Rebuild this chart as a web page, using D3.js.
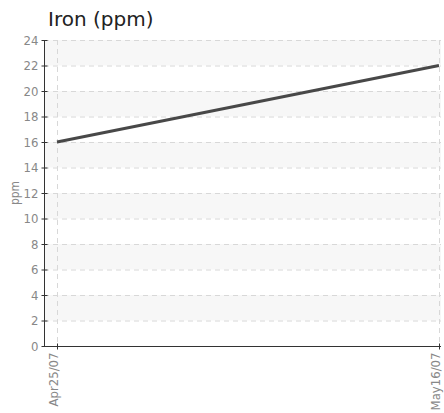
<!DOCTYPE html>
<html>
<head>
<meta charset="utf-8">
<script src="https://cdn.jsdelivr.net/npm/d3@7"></script>
<style>
body { margin: 0; background: #fff; }
text { font-family: "Liberation Sans Narrow", "DejaVu Sans Condensed", sans-serif; }
</style>
</head>
<body>
<div id="chart"></div>
<script>
// sample dates and iron readings
const dates = ["2007-04-25", "2007-05-16"];
const dateLabels = ["Apr25/07", "May16/07"];
const iron = [16, 22];
const yTicks = [0, 2, 4, 6, 8, 10, 12, 14, 16, 18, 20, 22, 24];

const width = 444;
const height = 413;
const margin = { top: 40, right: 3, bottom: 67, left: 44 };

const parse = d3.timeParse("%Y-%m-%d");
const data = dates.map((d, i) => ({ date: parse(d), value: iron[i], label: dateLabels[i] }));

const svg = d3.select("#chart")
    .append("svg")
    .attr("width", width)
    .attr("height", height);

const xScale = d3.scaleTime()
    .domain([parse(dates[0]), parse(dates[1])])
    .range([57, 439]);

const yScale = d3.scaleLinear()
    .domain([0, 24])
    .range([height - margin.bottom, margin.top]);

// alternating bands
const bands = d3.range(2, 24, 4);
svg.selectAll("rect.band")
    .data(bands)
    .enter()
    .append("rect")
    .attr("class", "band")
    .attr("x", margin.left)
    .attr("width", width - margin.right - margin.left)
    .attr("y", d => yScale(d + 2))
    .attr("height", d => yScale(d) - yScale(d + 2))
    .attr("fill", "#f7f7f7");

// horizontal grid
svg.selectAll("line.hgrid")
    .data(yTicks.slice(1))
    .enter()
    .append("line")
    .attr("class", "hgrid")
    .attr("x1", margin.left)
    .attr("x2", width - margin.right)
    .attr("y1", d => yScale(d) + 0.5)
    .attr("y2", d => yScale(d) + 0.5)
    .attr("stroke", "#d8d8d8")
    .attr("stroke-dasharray", "5,4");

// vertical grid at sample dates
svg.selectAll("line.vgrid")
    .data(data)
    .enter()
    .append("line")
    .attr("class", "vgrid")
    .attr("x1", d => Math.round(xScale(d.date)) + 0.5)
    .attr("x2", d => Math.round(xScale(d.date)) + 0.5)
    .attr("y1", margin.top)
    .attr("y2", height - margin.bottom)
    .attr("stroke", "#d8d8d8")
    .attr("stroke-dasharray", "5,4");

// line
svg.append("path")
    .datum(data)
    .attr("fill", "none")
    .attr("stroke", "#484848")
    .attr("stroke-width", 3)
    .attr("d", d3.line().x(d => xScale(d.date)).y(d => yScale(d.value)));

// y-axis
const yAxis = svg.append("g")
    .attr("transform", `translate(${margin.left + 0.5},0)`)
    .call(d3.axisLeft(yScale).tickValues(yTicks).tickSize(3).tickPadding(3));
yAxis.selectAll(".tick line").attr("x2", 3).attr("x1", -3).attr("stroke", "#333");
yAxis.select(".domain").attr("stroke", "#333").attr("d", `M0,${margin.top}V${height - margin.bottom}`);
yAxis.selectAll("text").attr("fill", "#888").attr("font-size", "13px")
    .attr("font-family", "Liberation Sans Narrow, DejaVu Sans Condensed, sans-serif");

// x-axis
const xAxis = svg.append("g")
    .attr("transform", `translate(0,${height - margin.bottom + 0.5})`)
    .call(d3.axisBottom(xScale).tickValues(data.map(d => d.date)).tickFormat((d, i) => dateLabels[i]).tickSize(3));
xAxis.selectAll(".tick line").attr("y1", -3).attr("y2", 3).attr("stroke", "#333");
xAxis.select(".domain").attr("stroke", "#333").attr("d", `M${margin.left},0H${width - margin.right}`);
xAxis.selectAll("text")
    .attr("fill", "#888")
    .attr("font-size", "13px")
    .attr("font-family", "Liberation Sans Narrow, DejaVu Sans Condensed, sans-serif")
    .attr("text-anchor", "end")
    .attr("transform", "rotate(-90)")
    .attr("x", -6)
    .attr("y", 0)
    .attr("dy", "0.05em");

// axis title
svg.append("text")
    .attr("transform", `translate(15,${(margin.top + height - margin.bottom) / 2}) rotate(-90)`)
    .attr("text-anchor", "middle")
    .attr("dy", "0.35em")
    .attr("fill", "#888")
    .attr("font-size", "12px")
    .text("ppm");

// chart title
svg.append("text")
    .attr("x", 48)
    .attr("y", 26)
    .attr("fill", "#222")
    .style("font-family", "DejaVu Sans, sans-serif")
    .attr("font-size", "20px")
    .text("Iron (ppm)");
</script>
</body>
</html>
